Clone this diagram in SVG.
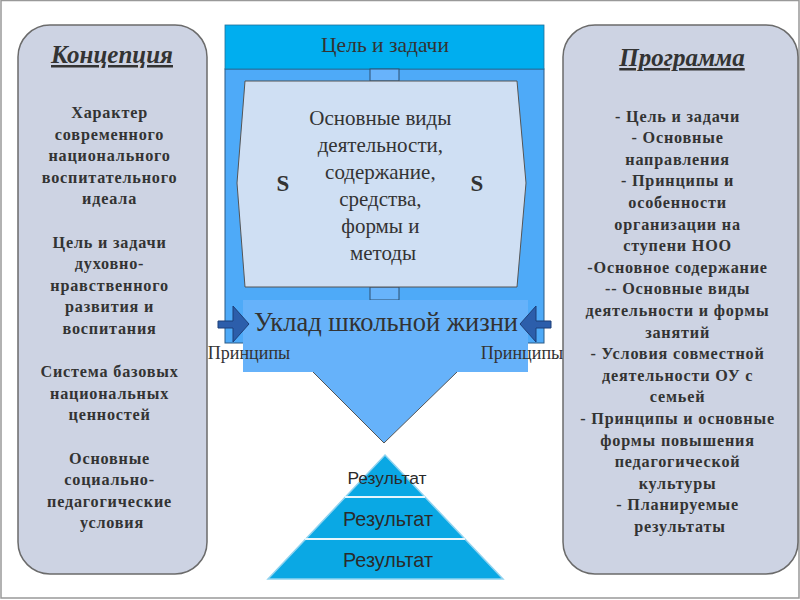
<svg xmlns="http://www.w3.org/2000/svg" width="800" height="600" viewBox="0 0 800 600">
<style>
.panel{fill:#cdd3e3;stroke:#6b6b6b;stroke-width:1.5}
.ptitle{font-family:"Liberation Serif",serif;font-weight:bold;font-style:italic;font-size:25px;fill:#333;text-anchor:middle;text-decoration:underline}
.pbody{font-family:"Liberation Serif",serif;font-weight:bold;font-size:16.2px;fill:#333;text-anchor:middle;letter-spacing:0.8px}
.serif{font-family:"Liberation Serif",serif;fill:#333;text-anchor:middle}
.res{font-family:"Liberation Sans",Arial,sans-serif;fill:#2a2a2a;text-anchor:middle}
.arrow{fill:#2c5eab;stroke:#1d3f78;stroke-width:1}
</style>
<rect x="1" y="0.5" width="798" height="597.5" fill="#fff" stroke="#999" stroke-width="1.5"/>

<g id="concept">
<rect class="panel" x="18" y="25" width="189" height="549" rx="32"/>
<text class="ptitle" x="112" y="63">Концепция</text>
<text class="pbody">
<tspan x="112" y="118">Характер</tspan>
<tspan x="112" y="139.6">современного</tspan>
<tspan x="112" y="161.2">национального</tspan>
<tspan x="112" y="182.8">воспитательного</tspan>
<tspan x="112" y="204.4">идеала</tspan>
<tspan x="112" y="247.6">Цель и задачи</tspan>
<tspan x="112" y="269.2">духовно-</tspan>
<tspan x="112" y="290.8">нравственного</tspan>
<tspan x="112" y="312.4">развития и</tspan>
<tspan x="112" y="334">воспитания</tspan>
<tspan x="112" y="377.2">Система базовых</tspan>
<tspan x="112" y="398.8">национальных</tspan>
<tspan x="112" y="420.4">ценностей</tspan>
<tspan x="112" y="463.6">Основные</tspan>
<tspan x="112" y="485.2">социально-</tspan>
<tspan x="112" y="506.8">педагогические</tspan>
<tspan x="112" y="528.4">условия</tspan>
</text>
</g>

<g id="program">
<rect class="panel" x="563" y="25" width="235" height="549" rx="32"/>
<text class="ptitle" x="682" y="66">Программа</text>
<text class="pbody">
<tspan x="680" y="121.5">- Цель и задачи</tspan>
<tspan x="680" y="143.1">- Основные</tspan>
<tspan x="680" y="164.7">направления</tspan>
<tspan x="680" y="186.3">- Принципы и</tspan>
<tspan x="680" y="207.9">особенности</tspan>
<tspan x="680" y="229.5">организации  на</tspan>
<tspan x="680" y="251.1">ступени НОО</tspan>
<tspan x="680" y="272.7">-Основное содержание</tspan>
<tspan x="680" y="294.3">-- Основные виды</tspan>
<tspan x="680" y="315.9">деятельности и формы</tspan>
<tspan x="680" y="337.5">занятий</tspan>
<tspan x="680" y="359.1">- Условия совместной</tspan>
<tspan x="680" y="380.7">деятельности ОУ с</tspan>
<tspan x="680" y="402.3">семьей</tspan>
<tspan x="680" y="423.9">- Принципы и основные</tspan>
<tspan x="680" y="445.5">формы повышения</tspan>
<tspan x="680" y="467.1">педагогической</tspan>
<tspan x="680" y="488.7">культуры</tspan>
<tspan x="680" y="510.3">- Планируемые</tspan>
<tspan x="680" y="531.9">результаты</tspan>
</text>
</g>

<g id="center">
<rect x="225" y="69" width="319" height="274" fill="#4eaaf8" stroke="#2b5a86" stroke-width="1"/>
<rect x="225" y="25" width="319" height="44" fill="#00aeef" stroke="#1f6f9a" stroke-width="0.8"/>
<text class="serif" x="385" y="52" font-size="21.5">Цель и задачи</text>
</g>

<g id="connectors">
<rect x="370" y="69" width="29" height="12" fill="#68b3fb" stroke="#2f4f6f" stroke-width="1"/>
<rect x="370" y="287" width="29" height="13" fill="#68b3fb" stroke="#2f4f6f" stroke-width="1"/>
</g>

<g id="activities">
<polygon points="245,81 517,81 526,183 517,287 245,287 237,183" fill="#cfdff3" stroke="#555" stroke-width="1"/>
<text class="serif" font-size="21">
<tspan x="383" y="125">Основные виды</tspan>
<tspan x="383" y="152">деятельности,</tspan>
<tspan x="383" y="179">содержание,</tspan>
<tspan x="383" y="206">средства,</tspan>
<tspan x="383" y="233">формы и</tspan>
<tspan x="383" y="260">методы</tspan>
</text>
<text class="serif" x="283" y="191" font-size="23" font-weight="bold">S</text>
<text class="serif" x="477" y="191" font-size="23" font-weight="bold">S</text>
</g>

<g id="uklad">
<polygon points="243,300 528,300 528,372 457,372 384,443 313,372 243,372" fill="#66b2fa"/>
<polyline points="313,372 384,443 457,372" fill="none" stroke="#555" stroke-width="1"/>
<text class="serif" x="386" y="331" font-size="26.5">Уклад школьной жизни</text>
</g>

<g id="principle-left">
<polygon class="arrow" points="218,321 233,321 233,306 249,324 233,342 233,328 218,328"/>
<text class="serif" x="249" y="359" font-size="18">Принципы</text>
</g>
<g id="principle-right">
<polygon class="arrow" points="551,321 536,321 536,306 520,324 536,342 536,328 551,328"/>
<text class="serif" x="522" y="359" font-size="18">Принципы</text>
</g>

<g id="pyramid">
<polygon points="385,455 503,579 268,579" fill="#0aa8e4" stroke="#8fd3f0" stroke-width="1.5"/>
<line x1="345" y1="497" x2="425" y2="497" stroke="#e6f6fd" stroke-width="2"/>
<line x1="305" y1="539" x2="465" y2="539" stroke="#e6f6fd" stroke-width="2"/>
<text class="res" x="387" y="484" font-size="17.4">Результат</text>
<text class="res" x="388" y="526" font-size="19.8">Результат</text>
<text class="res" x="388" y="567" font-size="19.8">Результат</text>
</g>
</svg>
